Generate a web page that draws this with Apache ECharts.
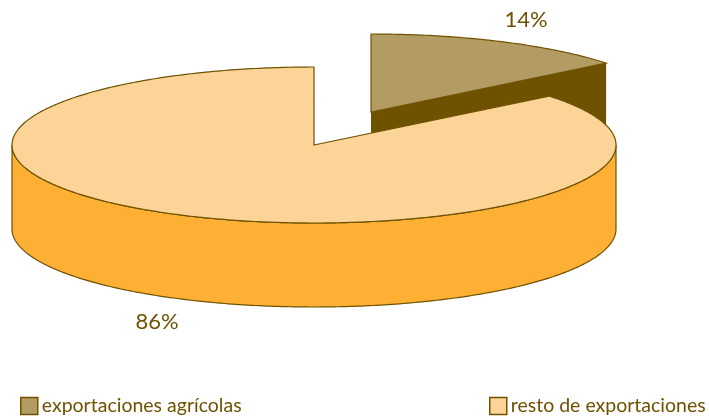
<!DOCTYPE html>
<html>
<head>
<meta charset="utf-8">
<style>html,body{margin:0;padding:0;background:#fff}#c{width:709px;height:416px}</style>
<script src="https://cdn.jsdelivr.net/npm/echarts@6/dist/echarts.min.js"></script>
</head>
<body>
<div id="c"></div>
<script>
var categories = ['exportaciones agrícolas', 'resto de exportaciones'];
var values = [14.2, 85.8];
var valueLabels = ['14%', '86%'];

var total = values[0] + values[1];
var CX = 314, CY = 145, RX = 302, RY = 78, DEPTH = 84;
var INK = '#6f5200';
var topColors = ['#b39c64', '#fdd498'];
var sideColors = ['#6f5200', '#fdb034'];
var explode = [[57, -33], [0, 0]];
var labelPos = [[526, 20], [157, 322]];

function pt(deg, ox, oy, dy) {
  var a = deg * Math.PI / 180;
  return [CX + ox + RX * Math.sin(a), CY + oy + dy - RY * Math.cos(a)];
}
function arc(from, to, ox, oy, dy) {
  var pts = [], n = Math.ceil(Math.abs(to - from) / 0.75);
  for (var i = 0; i <= n; i++) pts.push(pt(from + (to - from) * i / n, ox, oy, dy));
  return pts;
}
function renderSlice(idx) {
  return function (params, api) {
    var start = 0;
    for (var i = 0; i < idx; i++) start += values[i] / total * 360;
    var end = start + api.value(0) / total * 360;
    var ox = explode[idx][0], oy = explode[idx][1];
    var apex = [CX + ox, CY + oy];
    var children = [];
    var sidePts, sideStroke;
    if (idx === 0) {
      var e = pt(end, ox, oy, 0);
      sidePts = [apex, [apex[0], apex[1] + DEPTH], [e[0], e[1] + DEPTH], e];
      sideStroke = null;
    } else {
      var upper = arc(Math.max(start, 90), 270, ox, oy, 0);
      var lower = arc(270, Math.max(start, 90), ox, oy, DEPTH);
      sidePts = upper.concat(lower);
      sideStroke = INK;
    }
    children.push({
      type: 'polygon', shape: { points: sidePts },
      style: { fill: sideColors[idx], stroke: sideStroke, lineWidth: 1.2 }
    });
    var topPts = [apex].concat(arc(start, end, ox, oy, 0));
    children.push({
      type: 'polygon', shape: { points: topPts },
      style: { fill: topColors[idx], stroke: INK, lineWidth: 1.2, lineJoin: 'miter' }
    });
    children.push({
      type: 'text', x: labelPos[idx][0], y: labelPos[idx][1],
      style: {
        text: valueLabels[idx], fill: INK, align: 'center', verticalAlign: 'middle',
        font: '22px Lato'
      }
    });
    return { type: 'group', children: children };
  };
}
function legend(name, left) {
  return {
    data: [name], left: left, top: 396, orient: 'horizontal',
    itemWidth: 17, itemHeight: 17, itemGap: 0, padding: 0,
    icon: 'rect', selectedMode: false,
    textStyle: { color: INK, fontFamily: 'Lato', fontSize: 19.5, padding: [1, 0, 0, -1] },
    itemStyle: { borderColor: INK, borderWidth: 1.5 }
  };
}
var chart = echarts.init(document.getElementById('c'), null, { renderer: 'canvas' });
chart.setOption({
  animation: false,
  backgroundColor: '#fff',
  legend: [legend(categories[0], 20), legend(categories[1], 489)],
  series: categories.map(function (name, idx) {
    return {
      type: 'custom', name: name, coordinateSystem: 'none', z: idx + 1,
      itemStyle: { color: topColors[idx] }, silent: true,
      renderItem: renderSlice(idx), data: [[values[idx]]]
    };
  })
});
</script>
</body>
</html>
